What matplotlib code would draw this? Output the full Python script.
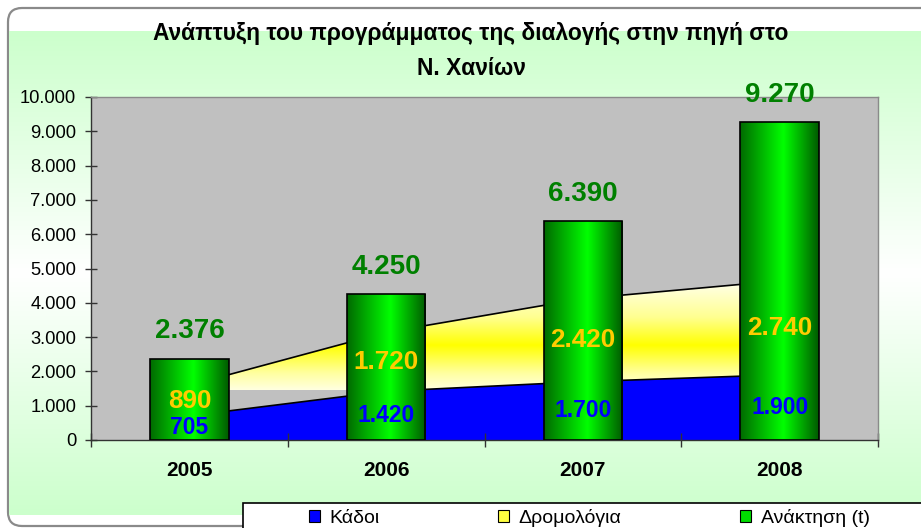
import numpy as np
import matplotlib
matplotlib.use("Agg")
import matplotlib.pyplot as plt
from matplotlib.colors import LinearSegmentedColormap
from matplotlib.patches import FancyBboxPatch, Rectangle, PathPatch, Patch
from matplotlib.ticker import FuncFormatter, FixedLocator

# ---- data ----
years = ["2005", "2006", "2007", "2008"]
kadoi = [705, 1420, 1700, 1900]            # Κάδοι
dromologia = [890, 1720, 2420, 2740]       # Δρομολόγια
anaktisi = [2376, 4250, 6390, 9270]        # Ανάκτηση (t)
title_text = "Ανάπτυξη του προγράμματος της διαλογής στην πηγή στο\nΝ. Χανίων"
series_names = ["Κάδοι", "Δρομολόγια", "Ανάκτηση (t)"]
y_ticks = [0, 1000, 2000, 3000, 4000, 5000, 6000, 7000, 8000, 9000, 10000]

ARIAL = ["Liberation Sans", "DejaVu Sans"]

W, H = 921, 528
fig = plt.figure(figsize=(W / 100, H / 100), dpi=100)
fig.patch.set_facecolor("white")

# ---- chart-area background ----
bg = fig.add_axes([0, 0, 1, 1], zorder=0)
bg.set_xlim(0, W)
bg.set_ylim(H, 0)
bg.axis("off")
frame = FancyBboxPatch((8, 8), 940, 518, boxstyle="round,pad=0,rounding_size=14",
                       facecolor="white", edgecolor="#8a8a8a", lw=1.6)
bg.add_patch(frame)
grad_cmap = LinearSegmentedColormap.from_list(
    "bg", [(0, "#ccffcc"), (0.5, "#ffffff"), (1, "#ccffcc")])
gy = np.linspace(0, 1, 256).reshape(-1, 1)
im = bg.imshow(gy, cmap=grad_cmap, extent=[9, W, 515, 31], aspect="auto",
               interpolation="bilinear", zorder=1)
im.set_clip_path(frame)
bg.set_xlim(0, W)
bg.set_ylim(H, 0)

# ---- title ----
fig.text(471 / W, 1 - 51 / H, title_text, ha="center", va="center",
         fontsize=16.4, fontweight="bold", family=ARIAL, linespacing=1.65,
         color="black")

# ---- main axes ----
L, R, T, B = 91, 878, 97, 440
ax = fig.add_axes([L / W, 1 - B / H, (R - L) / W, (B - T) / H], zorder=2)
ax.set_facecolor("#c0c0c0")
x = np.arange(len(years))

kad = np.array(kadoi, dtype=float)
cum = kad + np.array(dromologia, dtype=float)

# blue area
ax.fill_between(x, 0, kad, facecolor="#0000ff", edgecolor="none", zorder=1)
# yellow area with gradient fill
poly = ax.fill_between(x, kad, cum, facecolor="none", edgecolor="none", zorder=1)
ycmap = LinearSegmentedColormap.from_list(
    "yel", [(0, "#ffffe0"), (0.15, "#ffffa0"), (0.40, "#ffff00"),
            (0.65, "#ffff90"), (1, "#fffff4")])
yim = ax.imshow(np.linspace(0, 1, 256).reshape(-1, 1), cmap=ycmap, origin="lower",
                extent=[-0.5, 3.5, 1450, 4700], aspect="auto",
                interpolation="bilinear", zorder=1.2)
clip = PathPatch(poly.get_paths()[0], transform=ax.transData)
yim.set_clip_path(clip)
ax.plot(x, kad, color="black", lw=1.2, zorder=1.5)
ax.plot(x, cum, color="black", lw=1.2, zorder=1.5)

# green cylinder bars
bcmap = LinearSegmentedColormap.from_list(
    "bar", [(0, "#006a00"), (0.55, "#00ff00"), (1, "#005a00")])
bw = 0.4
bars = ax.bar(x, anaktisi, width=bw, facecolor="none", edgecolor="black",
              lw=1.2, zorder=3)
for xi, v, b in zip(x, anaktisi, bars):
    bim = ax.imshow(np.linspace(0, 1, 256).reshape(1, -1), cmap=bcmap,
                    extent=[xi - bw / 2, xi + bw / 2, 0, v], aspect="auto",
                    interpolation="bilinear", zorder=2.9)
    bim.set_clip_path(b)

fmt = lambda v: f"{int(round(v)):,}".replace(",", ".")

# data labels
for xi, k, d, a in zip(x, kadoi, dromologia, anaktisi):
    ax.text(xi, k / 2, fmt(k), ha="center", va="center", color="#0000ff",
            fontsize=16.5, fontweight="bold", family=ARIAL, zorder=5)
    ax.text(xi, k + d / 2, fmt(d), ha="center", va="center", color="#ffcc00",
            fontsize=18.8, fontweight="bold", family=ARIAL, zorder=5)
    ax.annotate(fmt(a), (xi, a), xytext=(0, 19.5), textcoords="offset points",
                ha="center", va="center", color="#008000", fontsize=20,
                fontweight="bold", family=ARIAL, zorder=5)

ax.set_xlim(-0.5, 3.5)
ax.set_ylim(0, 10000)
ax.set_aspect("auto")

ax.yaxis.set_major_locator(FixedLocator(y_ticks))
ax.yaxis.set_major_formatter(FuncFormatter(lambda v, p: fmt(v)))
ax.tick_params(axis="y", direction="inout", length=8.6, width=1, color="#333333",
               pad=6.5, labelsize=13.2, labelcolor="black")
for lab in ax.get_yticklabels():
    lab.set_family(ARIAL)

ax.set_xticks(x)
ax.set_xticklabels(years, fontsize=15, fontweight="bold", family=ARIAL)
ax.set_xticks(np.arange(-0.5, 4.0, 1.0), minor=True)
ax.tick_params(axis="x", which="major", length=0, pad=15)
ax.tick_params(axis="x", which="minor", direction="inout", length=9.4, width=1,
               color="#333333")

ax.spines["left"].set_color("#333333")
ax.spines["bottom"].set_color("#333333")
ax.spines["top"].set_color("#8a8a8a")
ax.spines["right"].set_color("#8a8a8a")
for s in ax.spines.values():
    s.set_linewidth(1)

# ---- legend ----
bg.add_patch(Rectangle((243, 503), 700, 40, facecolor="white", edgecolor="black",
                       lw=1.2, zorder=3))
handles = [Patch(facecolor="#0000ff", edgecolor="black", lw=0.8),
           Patch(facecolor="#ffff40", edgecolor="black", lw=0.8),
           Patch(facecolor="#00dd00", edgecolor="black", lw=0.8)]
leg = fig.legend(handles, series_names, loc="center left",
                 bbox_to_anchor=(309 / W, 1 - 518 / H), ncol=3, frameon=False,
                 prop={"family": ARIAL, "size": 14}, handlelength=0.55,
                 handleheight=0.55, handletextpad=0.5, columnspacing=6.1,
                 borderpad=0, borderaxespad=0)
leg.set_zorder(5)

fig.savefig("out.png", dpi=100)
